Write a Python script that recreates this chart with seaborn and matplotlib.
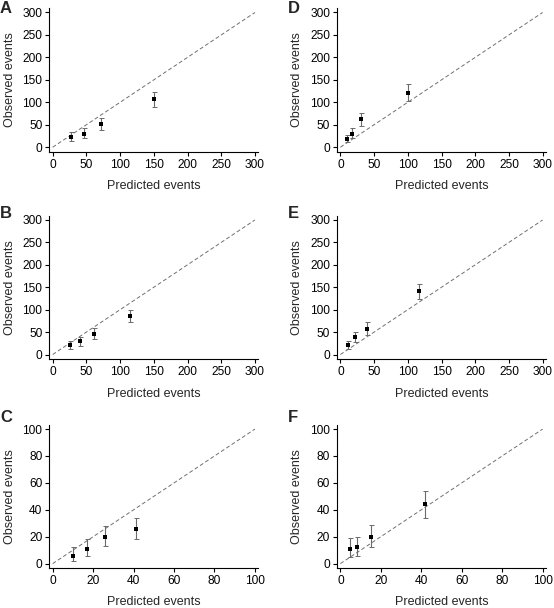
import numpy as np
import pandas as pd
import seaborn as sns
import matplotlib.pyplot as plt

# predicted vs observed events, with lower / upper error bounds
a_pred = [27, 47, 72, 151]
a_obs = [23, 30, 52, 107]
a_lo = [13, 21, 39, 90]
a_hi = [33, 42, 65, 123]

b_pred = [25, 40, 62, 115]
b_obs = [21, 30, 46, 85]
b_lo = [13, 20, 35, 72]
b_hi = [30, 39, 59, 99]

c_pred = [10, 17, 26, 41]
c_obs = [6, 11, 20, 26]
c_lo = [2, 5.5, 13, 18]
c_hi = [12, 18, 28, 34]

d_pred = [10, 17, 31, 101]
d_obs = [19, 30, 62, 120]
d_lo = [11, 21, 47, 102]
d_hi = [28, 42, 77, 140]

e_pred = [12, 22, 40, 117]
e_obs = [22, 39, 58, 141]
e_lo = [13, 27, 44, 124]
e_hi = [31, 51, 73, 158]

f_pred = [5, 8, 15, 42]
f_obs = [11, 12, 20, 44]
f_lo = [5, 6, 12.5, 34]
f_hi = [19, 20, 29, 54]

panel_labels = ["A", "B", "C", "D", "E", "F"]
axis_max = [300, 300, 100, 300, 300, 100]

sns.set_style("ticks")
plt.rcParams['font.family'] = ['Liberation Sans', 'DejaVu Sans']
plt.rcParams['font.size'] = 8

W, H = 554, 608
fig = plt.figure(figsize=(W / 100, H / 100), dpi=100)

# pixel boxes: left, top, right, bottom
col_x = [(49.3, 258.3), (337, 546)]
row_y = [(8, 151.7), (215.5, 359), (425, 567.7)]
letter_top = [1, 206, 410]

panels = [
    (a_pred, a_obs, a_lo, a_hi),
    (b_pred, b_obs, b_lo, b_hi),
    (c_pred, c_obs, c_lo, c_hi),
    (d_pred, d_obs, d_lo, d_hi),
    (e_pred, e_obs, e_lo, e_hi),
    (f_pred, f_obs, f_lo, f_hi),
]

for i, (pred, obs, lo, hi) in enumerate(panels):
    col, row = divmod(i, 3)
    x0, x1 = col_x[col]
    y0, y1 = row_y[row]
    ax = fig.add_axes([x0 / W, 1 - y1 / H, (x1 - x0) / W, (y1 - y0) / H])

    df = pd.DataFrame({"pred": pred, "obs": obs, "lo": lo, "hi": hi})
    m = axis_max[i]

    # identity line
    ax.plot([0, m], [0, m], ls=(0, (4, 2.5)), color="#707070", lw=0.7, zorder=1)
    ax.errorbar(df["pred"], df["obs"],
                yerr=[df["obs"] - df["lo"], df["hi"] - df["obs"]],
                fmt="none", ecolor="#6a6a6a", elinewidth=0.8, capsize=1.8,
                capthick=0.7, zorder=2)
    sns.scatterplot(data=df, x="pred", y="obs", ax=ax, color="black",
                    marker="s", s=5, linewidth=0, zorder=3)

    pad_x = m / 60
    pad_y = m / 30 if m == 300 else m / 33
    ax.set_xlim(-pad_x, m + pad_x)
    ax.set_ylim(-pad_y, m + pad_y)
    step = 50 if m == 300 else 20
    ticks = np.arange(0, m + 1, step)
    ax.set_xticks(ticks)
    ax.set_yticks(ticks)
    ax.tick_params(length=3, width=0.8, pad=2, labelsize=8.6, colors="black")
    for s in ["left", "bottom"]:
        ax.spines[s].set_linewidth(0.8)
        ax.spines[s].set_color("black")
    sns.despine(ax=ax)
    ax.set_xlabel("Predicted events", fontsize=9, labelpad=7)
    ax.set_ylabel("Observed events", fontsize=9, labelpad=5)

    fig.text((x0 - 49.3) / W, 1 - letter_top[row] / H, panel_labels[i],
             fontsize=12, fontweight="bold", va="top", ha="left")

fig.savefig("out.png", dpi=100)
